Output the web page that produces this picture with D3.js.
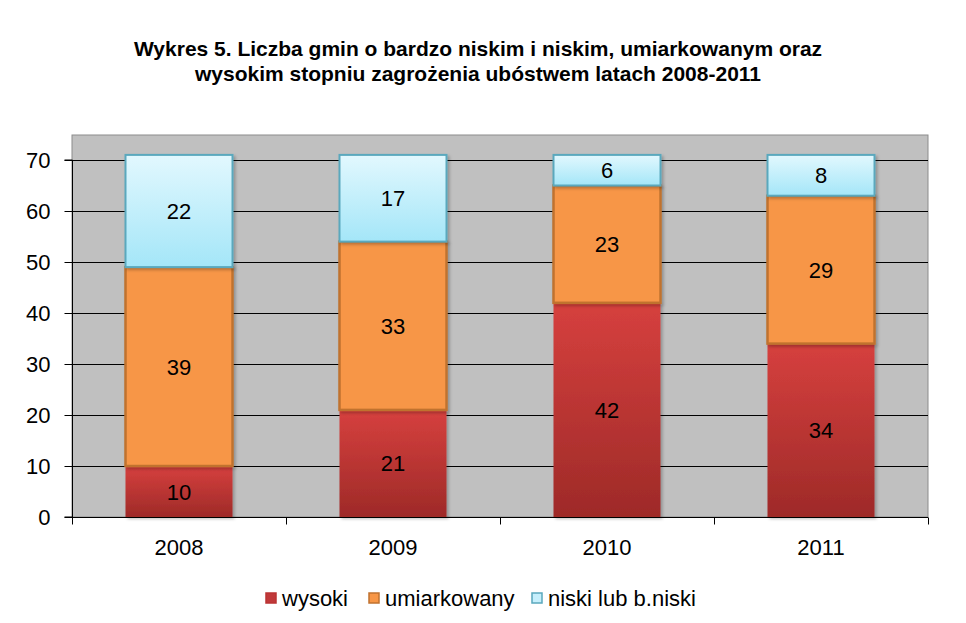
<!DOCTYPE html>
<html><head><meta charset="utf-8">
<script src="https://cdn.jsdelivr.net/npm/d3@7"></script>
<style>body{margin:0;background:#fff;} svg{display:block;}</style>
</head><body>
<svg id="c" width="966" height="623"></svg>
<script>
const years = ["2008","2009","2010","2011"];
const wysoki = [10,21,42,34];
const umiarkowany = [39,33,23,29];
const niski = [22,17,6,8];
const seriesNames = ["wysoki","umiarkowany","niski lub b.niski"];
const yTicks = [0,10,20,30,40,50,60,70];
const titleLines = ["Wykres 5. Liczba gmin o bardzo niskim i niskim, umiarkowanym oraz","wysokim stopniu zagrożenia ubóstwem latach 2008-2011"];

const svg = d3.select("#c");
const W=966,H=623;
const m={left:72,right:38,top:135,bottom:106};
const pw = W-m.left-m.right, ph = H-m.top-m.bottom;
const x = d3.scaleBand().domain(years).range([m.left, m.left+pw]).paddingInner(0.5).paddingOuter(0.25);
const y = d3.scaleLinear().domain([0,70]).range([517,160]);
const FONT = "'Liberation Sans',Arial,sans-serif";

const defs = svg.append("defs");
function grad(id, c1, c2){
  const g = defs.append("linearGradient").attr("id",id).attr("x1",0).attr("y1",0).attr("x2",0).attr("y2",1);
  g.append("stop").attr("offset","0%").attr("stop-color",c1);
  g.append("stop").attr("offset","100%").attr("stop-color",c2);
}
grad("gRed","#d6403e","#9e2a28");
grad("gBlue","#e2f8fe","#a4e6f8");
const fblur = defs.append("filter").attr("id","sh").attr("x","-10%").attr("y","-10%").attr("width","130%").attr("height","130%");
fblur.append("feDropShadow").attr("dx",2).attr("dy",2).attr("stdDeviation",1.5).attr("flood-color","#000").attr("flood-opacity",0.25);

// title
svg.append("g").selectAll("text").data(titleLines).join("text")
  .attr("x",478).attr("y",(d,i)=>56+i*25).attr("text-anchor","middle")
  .attr("font-family",FONT)
  .attr("font-weight","bold").attr("font-size",21).attr("fill","#000").text(d=>d);

// plot background
svg.append("rect").attr("x",m.left).attr("y",m.top).attr("width",pw).attr("height",517-m.top)
  .attr("fill","#c0c0c0").attr("stroke","#8c8c8c").attr("stroke-width",1);

// gridlines
svg.append("g").selectAll("line").data(yTicks.filter(d=>d>0)).join("line")
  .attr("x1",m.left).attr("x2",m.left+pw).attr("y1",d=>Math.round(y(d))+0.5).attr("y2",d=>Math.round(y(d))+0.5)
  .attr("stroke","#000").attr("stroke-width",1);

// axes
const yAxis = d3.axisLeft(y).tickValues(yTicks).tickSize(8).tickPadding(14);
const gy = svg.append("g").attr("transform",`translate(${m.left+0.5},0)`).call(yAxis);
gy.selectAll("text").attr("font-family",FONT).attr("font-size",22).attr("fill","#000");
gy.selectAll("line,path").attr("stroke","#000");
gy.select(".domain").attr("d",`M-8,${y(70)}H0V${y(0)}H-8`);

const gx = svg.append("g").attr("transform",`translate(0,${517.5})`);
gx.append("line").attr("x1",m.left).attr("x2",m.left+pw).attr("stroke","#000");
gx.selectAll("line.t").data(d3.range(5)).join("line").attr("class","t")
  .attr("x1",i=>Math.round(m.left+i*pw/4)+0.5).attr("x2",i=>Math.round(m.left+i*pw/4)+0.5).attr("y1",0).attr("y2",7).attr("stroke","#000");
const xAxis = d3.axisBottom(x).tickSize(0).tickPadding(22);
const gx2 = svg.append("g").attr("transform",`translate(0,517)`).call(xAxis);
gx2.select(".domain").remove();
gx2.selectAll("text").attr("font-family",FONT).attr("font-size",22).attr("fill","#000");

// stacked data
const rows = years.map((yr,i)=>({year:yr, wysoki:wysoki[i], umiarkowany:umiarkowany[i], niski:niski[i]}));
const stack = d3.stack().keys(["wysoki","umiarkowany","niski"])(rows);
const fills = {wysoki:"url(#gRed)", umiarkowany:"#f79646", niski:"url(#gBlue)"};
const strokes = {wysoki:"none", umiarkowany:"#c0722f", niski:"#5aa8bd"};
const sw = {wysoki:0, umiarkowany:2.5, niski:2};

const gb = svg.append("g");
stack.forEach(s=>{
  gb.append("g").selectAll("rect").data(s).join("rect")
    .attr("x",d=>x(d.data.year)).attr("width",x.bandwidth())
    .attr("y",d=>y(d[1])).attr("height",d=>y(d[0])-y(d[1]))
    .attr("fill",fills[s.key]).attr("stroke",strokes[s.key]).attr("stroke-width",sw[s.key])
    .attr("filter","url(#sh)");
});
stack.forEach(s=>{
  gb.append("g").selectAll("text").data(s).join("text")
    .attr("x",d=>x(d.data.year)+x.bandwidth()/2).attr("y",d=>(y(d[0])+y(d[1]))/2+8)
    .attr("text-anchor","middle").attr("font-family",FONT)
    .attr("font-size",22).attr("fill","#000").text(d=>d[1]-d[0]);
});

// legend
const legX = [266, 369, 532];
const legFill = ["#c0393a","#f79646","#c6effc"];
const legStroke = ["#b33","#c0722f","#5aa8bd"];
const lg = svg.append("g");
seriesNames.forEach((n,i)=>{
  lg.append("rect").attr("x",legX[i]).attr("y",593).attr("width",10).attr("height",10)
    .attr("fill",legFill[i]).attr("stroke",legStroke[i]).attr("stroke-width",1.5);
  lg.append("text").attr("x",legX[i]+16).attr("y",606).attr("font-family",FONT)
    .attr("font-size",22).attr("fill","#000").text(n);
});
</script>
</body></html>
